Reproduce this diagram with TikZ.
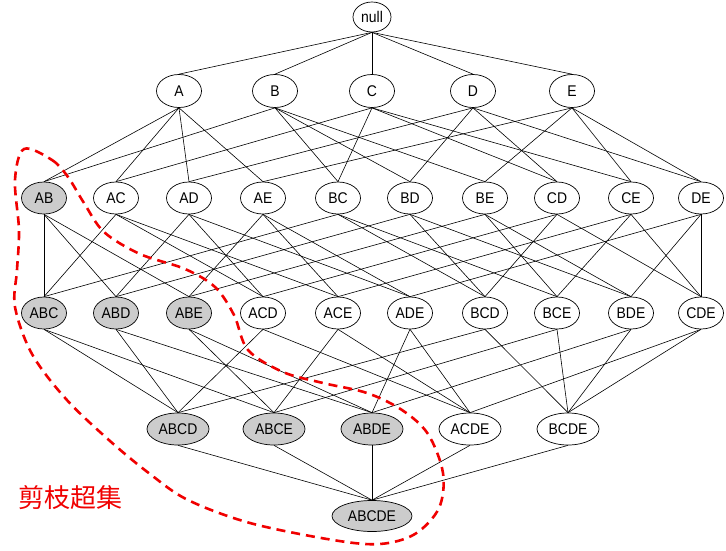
\documentclass[tikz,border=0pt]{standalone}
\usepackage{fontspec}
\setmainfont{Liberation Sans}[FakeStretch=0.9]
\newfontfamily\cjk{Noto Sans CJK SC}
\usetikzlibrary{shapes.geometric}
\definecolor{prune}{RGB}{204, 204, 204}
\definecolor{cut}{RGB}{240, 0, 0}

\begin{document}
\begin{tikzpicture}[
        x=1pt, y=-1pt,
        font=\fontsize{15.5}{17}\selectfont,
        % Styles
        item/.style={
            ellipse,
            draw=black,
            line width=0.7pt,
            inner sep=0pt,
            minimum width=45,
            minimum height=32,
            fill=white
        },
        pruned/.style={item, fill=prune},
        wide/.style={minimum width=62},
        wider/.style={minimum width=80},
        link/.style={line width=0.6pt, draw=black},
        fence/.style={draw=cut, line width=2.6pt, dash pattern=on 9pt off 6pt}
    ]
    \useasboundingbox (0,0) rectangle (726,550);

    % ==============================
    % 1. EMPTY SET AND SINGLE ITEMS
    % ==============================
    \node[item, minimum width=38, minimum height=30] (null) at (372,17) {null};

    \foreach \n/\x in {A/179, B/275, C/372, D/473, E/572}
        \node[item, minimum height=33] (\n) at (\x,91) {\n};

    % ==============================
    % 2. PAIRS AND TRIPLES
    % ==============================
    \foreach \n/\x/\s in {AB/44/pruned, AC/116/item, AD/189/item, AE/263/item, BC/338/item,
                          BD/410/item, BE/485/item, CD/557/item, CE/631/item, DE/701/item}
        \node[\s] (\n) at (\x,198) {\n};

    \foreach \n/\x/\s in {ABC/44/pruned, ABD/116/pruned, ABE/189/pruned, ACD/263/item, ACE/338/item,
                          ADE/410/item, BCD/485/item, BCE/557/item, BDE/631/item, CDE/701/item}
        \node[\s] (\n) at (\x,313) {\n};

    % ==============================
    % 3. QUADRUPLES AND FULL SET
    % ==============================
    \foreach \n/\x/\s in {ABCD/178/pruned, ABCE/274/pruned, ABDE/372/pruned, ACDE/470/item, BCDE/568/item}
        \node[\s, wide] (\n) at (\x,429) {\n};

    \node[pruned, wider, minimum height=31] (ABCDE) at (372,516) {ABCDE};

    % ==============================
    % 4. SUBSET LINKS
    % ==============================
    \foreach \c in {A,B,C,D,E}
        \draw[link] (null.south) -- (\c.north);

    \foreach \c/\ps in {AB/{A,B}, AC/{A,C}, AD/{A,D}, AE/{A,E}, BC/{B,C},
                        BD/{B,D}, BE/{B,E}, CD/{C,D}, CE/{C,E}, DE/{D,E}}
        \foreach \p in \ps
            \draw[link] (\p.south) -- (\c.north);

    \foreach \c/\ps in {ABC/{AB,AC,BC}, ABD/{AB,AD,BD}, ABE/{AB,AE,BE}, ACD/{AC,AD,CD},
                        ACE/{AC,AE,CE}, ADE/{AD,AE,DE}, BCD/{BC,BD,CD}, BCE/{BC,BE,CE},
                        BDE/{BD,BE,DE}, CDE/{CD,CE,DE}}
        \foreach \p in \ps
            \draw[link] (\p.south) -- (\c.north);

    \foreach \c/\ps in {ABCD/{ABC,ABD,ACD,BCD}, ABCE/{ABC,ABE,ACE,BCE}, ABDE/{ABD,ABE,ADE,BDE},
                        ACDE/{ACD,ACE,ADE,CDE}, BCDE/{BCD,BCE,BDE,CDE}}
        \foreach \p in \ps
            \draw[link] (\p.south) -- (\c.north);

    \foreach \p in {ABCD,ABCE,ABDE,ACDE,BCDE}
        \draw[link] (\p.south) -- (ABCDE.north);

    % ==============================
    % 5. PRUNED REGION
    % ==============================
    \draw[fence] plot[smooth cycle, tension=0.55] coordinates {
        (24,149) (52,160) (68,177) (84,203) (104,232) (140,254) (185,269) (215,287)
        (234,315) (248,350) (283,372) (323,383) (367,393) (402,410) (428,434) (443,473)
        (439,508) (415,534) (380,544) (333,540) (250,523) (188,500) (150,474) (110,441)
        (66,399) (32,354) (15,307) (17,270) (19,230) (15,180)
    };

    \node[text=cut, font=\cjk\fontsize{26}{28}\selectfont] (label) at (70,498) {剪枝超集};

\end{tikzpicture}
\end{document}
